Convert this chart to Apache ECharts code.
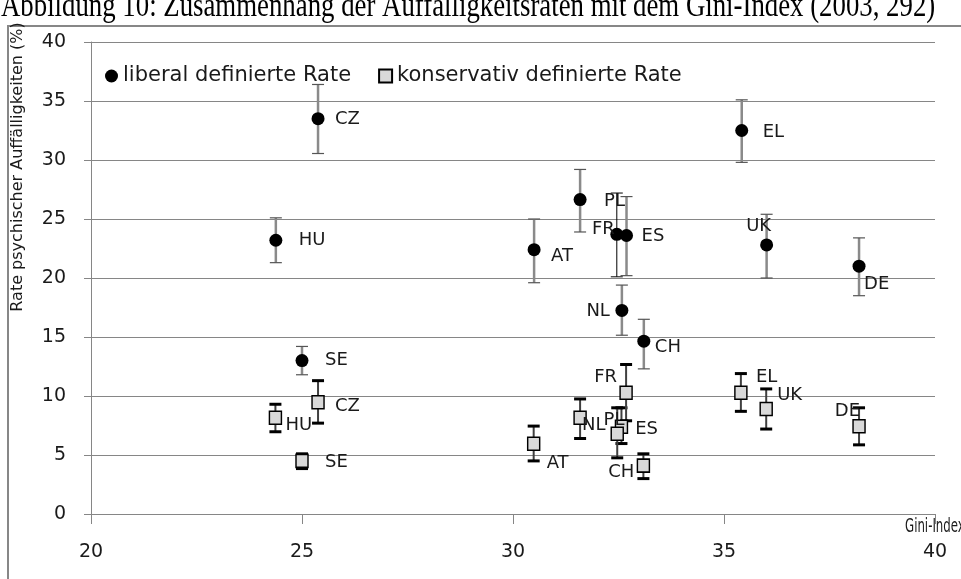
<!DOCTYPE html>
<html><head><meta charset="utf-8">
<script src="https://cdn.jsdelivr.net/npm/echarts@6/dist/echarts.min.js"></script>
<style>html,body{margin:0;padding:0;background:#fff}#c{width:961px;height:579px}</style>
</head><body><div id="c"></div>
<script>
// ---- data ----
const xTickLabels = [20, 25, 30, 35, 40];
const yTickLabels = [0, 5, 10, 15, 20, 25, 30, 35, 40];

const libCountries = ['CZ','HU','SE','AT','PL','FR','ES','NL','CH','EL','UK','DE'];
const libGini      = [25.38, 24.38, 25.0, 30.5, 31.59, 32.46, 32.69, 32.58, 33.1, 35.42, 36.01, 38.2];
const libRate      = [33.5, 23.2, 13.0, 22.4, 26.65, 23.7, 23.6, 17.25, 14.65, 32.5, 22.8, 21.0];
const libLow       = [30.55, 21.3, 11.8, 19.6, 23.9, 20.1, 20.2, 15.15, 12.3, 29.8, 20.0, 18.5];
const libHigh      = [36.4, 25.1, 14.2, 25.0, 29.2, 27.2, 26.9, 19.4, 16.5, 35.1, 25.4, 23.4];

const conCountries = ['HU','CZ','SE','AT','NL','PL','ES','FR','CH','EL','UK','DE'];
const conGini      = [24.37, 25.38, 25.0, 30.49, 31.59, 32.57, 32.47, 32.68, 33.09, 35.4, 36.0, 38.2];
const conRate      = [8.15, 9.47, 4.5, 5.95, 8.15, 7.4, 6.8, 10.27, 4.1, 10.27, 8.9, 7.44];
const conLow       = [6.97, 7.7, 3.85, 4.5, 6.4, 5.97, 4.76, 7.9, 3.0, 8.7, 7.2, 5.86];
const conHigh      = [9.3, 11.3, 5.1, 7.45, 9.75, 9.0, 9.0, 12.67, 5.1, 11.9, 10.6, 9.0];

// ---- label placement (pixel offsets from the marker, style only) ----
const libLabelPlace = [[17,1,'left'],[23,0,'left'],[23,0,'left'],[17,7,'left'],[24,2,'left'],[-2,-5,'right'],
  [15,1,'left'],[-12,1,'right'],[11,6,'left'],[21,2,'left'],[-8,-19,'center'],[5,18,'left']];
const conLabelPlace = [[10,7,'left'],[17,4,'left'],[23,1,'left'],[13,20,'left'],[2,7,'left'],[3,-6,'right'],
  [18,-4,'left'],[-9,-15,'right'],[-9,7,'right'],[15,-15,'left'],[11,-14,'left'],[1,-15,'right']];

const LIB = 'liberal definierte Rate';
const CON = 'konservativ definierte Rate';
const FONT = 'DejaVu Sans';

function errData(g, lo, hi) { return g.map((x, i) => [x, lo[i], hi[i], i]); }
function ptData(g, r) { return g.map((x, i) => [x, r[i], i]); }

function errRenderer(kind) {
  return function (params, api) {
    const x = api.value(0), i = api.value(3);
    const lo = api.coord([x, api.value(1)]);
    const hi = api.coord([x, api.value(2)]);
    let lineColor, lineW, capColor, capW, capHalf;
    if (kind === 'lib') {
      if (libCountries[i] === 'FR') { lineColor = '#000'; lineW = 1; capColor = '#000'; capW = 1; capHalf = 6; }
      else { lineColor = '#8a8a8a'; lineW = 2.5; capColor = '#555'; capW = 1.2; capHalf = 6; }
    } else {
      lineColor = '#404040'; lineW = 2; capColor = '#000'; capW = 3; capHalf = 6;
    }
    return {
      type: 'group',
      children: [
        { type: 'line', shape: { x1: lo[0], y1: lo[1], x2: hi[0], y2: hi[1] }, style: { stroke: lineColor, lineWidth: lineW } },
        { type: 'line', shape: { x1: hi[0] - capHalf, y1: hi[1], x2: hi[0] + capHalf, y2: hi[1] }, style: { stroke: capColor, lineWidth: capW } },
        { type: 'line', shape: { x1: lo[0] - capHalf, y1: lo[1], x2: lo[0] + capHalf, y2: lo[1] }, style: { stroke: capColor, lineWidth: capW } }
      ]
    };
  };
}

function labelRenderer(names, place) {
  return function (params, api) {
    const i = api.value(2);
    const p = api.coord([api.value(0), api.value(1)]);
    const pl = place[i];
    return {
      type: 'text', x: p[0] + pl[0], y: p[1] + pl[1],
      style: { text: names[i], fill: '#1a1a1a', font: '18px "' + FONT + '"', align: pl[2], verticalAlign: 'middle' }
    };
  };
}

const chart = echarts.init(document.getElementById('c'), null, { renderer: 'canvas' });
chart.setOption({
  backgroundColor: '#fff',
  animation: false,
  grid: { left: 91, right: 26, top: 42, bottom: 65 },
  legend: {
    left: 100, top: 59, itemWidth: 13, itemHeight: 13, itemGap: 27,
    textStyle: { fontFamily: FONT, fontSize: 21, color: '#1a1a1a', lineHeight: 24 },
    data: [{ name: LIB, icon: 'circle' }, { name: CON, icon: 'rect' }]
  },
  xAxis: {
    type: 'value', min: xTickLabels[0], max: xTickLabels[xTickLabels.length - 1], interval: 5,
    axisLine: { show: true, lineStyle: { color: '#868686', width: 1 } },
    axisTick: { show: true, length: 10, lineStyle: { color: '#868686' } },
    axisLabel: { margin: 29, fontFamily: FONT, fontSize: 19, color: '#1a1a1a' },
    splitLine: { show: false }
  },
  yAxis: {
    type: 'value', min: yTickLabels[0], max: yTickLabels[yTickLabels.length - 1], interval: 5,
    axisLine: { show: true, lineStyle: { color: '#868686', width: 1 } },
    axisTick: { show: true, length: 7, lineStyle: { color: '#868686' } },
    axisLabel: { margin: 25, fontFamily: FONT, fontSize: 19, color: '#1a1a1a' },
    splitLine: { show: true, lineStyle: { color: '#868686', width: 1 } }
  },
  graphic: [
    { type: 'text', x: 1, y: 7, scaleY: 1.25, style: { text: 'Abbildung 10: Zusammenhang der Auffälligkeitsraten mit dem Gini-Index (2003, 292)', font: '26.8px "Liberation Serif"', fill: '#000', verticalAlign: 'middle', align: 'left' } },
    { type: 'polyline', shape: { points: [[8, 579], [8, 26], [961, 26]] }, style: { stroke: '#878787', lineWidth: 2, fill: null } },
    { type: 'text', x: 18, y: 167, rotation: Math.PI / 2, style: { text: 'Rate psychischer Auffälligkeiten (%)', font: '16px "' + FONT + '"', fill: '#1a1a1a', align: 'center', verticalAlign: 'middle' } },
    { type: 'text', x: 905, y: 527, scaleX: 0.62, style: { text: 'Gini-Index', font: '19px "' + FONT + '"', fill: '#1a1a1a', align: 'left', verticalAlign: 'middle' } }
  ],
  series: [
    { type: 'custom', name: 'libErr', data: errData(libGini, libLow, libHigh), encode: { x: 0, y: [1, 2] }, renderItem: errRenderer('lib'), z: 2, silent: true },
    { type: 'custom', name: 'conErr', data: errData(conGini, conLow, conHigh), encode: { x: 0, y: [1, 2] }, renderItem: errRenderer('con'), z: 2, silent: true },
    { type: 'scatter', name: LIB, data: ptData(libGini, libRate), symbol: 'circle', symbolSize: 13, itemStyle: { color: '#000', opacity: 1 }, z: 3 },
    { type: 'scatter', name: CON, data: ptData(conGini, conRate), symbol: 'rect', symbolSize: [12, 13], itemStyle: { color: '#d9d9d9', borderColor: '#000', borderWidth: 1.5, opacity: 1 }, z: 3 },
    { type: 'custom', name: 'libLab', data: ptData(libGini, libRate), encode: { x: 0, y: 1 }, renderItem: labelRenderer(libCountries, libLabelPlace), z: 4, silent: true },
    { type: 'custom', name: 'conLab', data: ptData(conGini, conRate), encode: { x: 0, y: 1 }, renderItem: labelRenderer(conCountries, conLabelPlace), z: 4, silent: true }
  ]
});
</script></body></html>
